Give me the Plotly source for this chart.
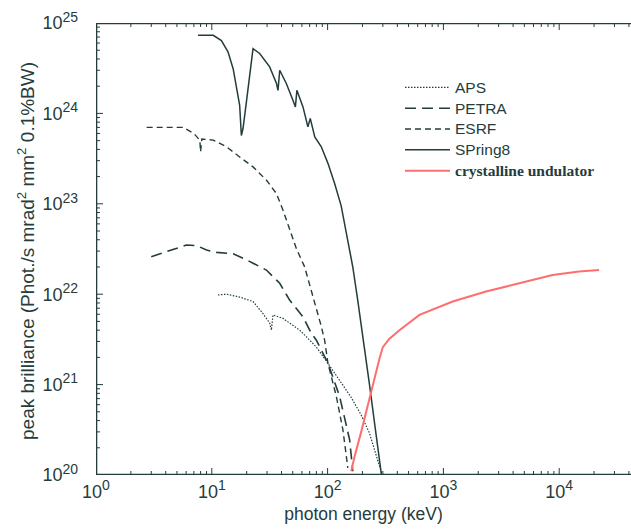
import math
import plotly.graph_objects as go

# ---- data ----
aps_x = [11.3, 13.4, 17.4, 22.7, 27.4, 31.6, 32.7, 33.8, 41.2, 57.4, 65.3, 80, 100.7, 127, 160, 195, 230, 296]
aps_y = [9.8e21, 1.0e22, 9.3e21, 8.3e21, 6.2e21, 4.8e21, 4.0e21, 5.9e21, 5.4e21, 4.0e21, 3.4e21, 2.6e21,
         1.72e21, 1.13e21, 7.2e20, 4.6e20, 2.9e20, 1.0e20]

petra_x = [3.0, 4.5, 6.05, 7.4, 9.0, 11, 15.3, 19.9, 22.7, 29.6, 38.6, 47, 61.3, 72.3, 80, 100.7, 127, 155, 165]
petra_y = [2.6e22, 3.1e22, 3.5e22, 3.45e22, 3.08e22, 2.9e22, 2.8e22, 2.4e22, 2.2e22, 1.85e22, 1.32e22,
           8.6e21, 5.6e21, 3.7e21, 3.1e21, 1.72e21, 7.4e20, 2.45e20, 1.1e20]

esrf_x = [2.74, 5.66, 7.0, 7.88, 8.0, 8.2, 10.3, 13.4, 17.4, 22.7, 29.6, 36.1, 41.2, 47, 53.7, 63.4, 72.3,
          80, 88.2, 94.2, 100.7, 119, 135.6, 149.5]
esrf_y = [7.0e23, 7.0e23, 6.0e23, 5.06e23, 3.76e23, 5.2e23, 5.06e23, 4.27e23, 3.3e23, 2.56e23, 1.83e23,
          1.3e23, 8.5e22, 5.2e22, 3.2e22, 2.0e22, 1.12e22, 6.7e21, 4.4e21, 3.1e21, 1.72e21, 7.4e20, 3.16e20, 1.2e20]

spring8_x = [7.6, 10.3, 12.1, 13.8, 15.3, 16.3, 17.4, 18.0, 18.6, 19.9, 21.2, 22.7, 25.9, 31.6, 36.2, 37.3,
             38.6, 44, 50.2, 52.7, 54.3, 61.3, 67.6, 70.8, 77.5, 88.2, 100.7, 115, 131, 165, 182, 204, 230,
             259, 292]
spring8_y = [7.3e24, 7.3e24, 6.4e24, 4.8e24, 3.1e24, 2.05e24, 1.23e24, 5.7e23, 6.8e23, 1.34e24, 2.64e24,
             5.2e24, 4.6e24, 3.27e24, 2.14e24, 1.8e24, 3.0e24, 2.14e24, 1.4e24, 1.18e24, 1.8e24, 1.18e24,
             7.1e23, 8.8e23, 5.5e23, 4.27e23, 2.8e23, 1.68e23, 9.5e22, 2.0e22, 8.6e21, 3.1e21, 1.0e21,
             3.16e20, 1.0e20]

cu_x = [160, 171, 195, 215, 238, 260, 281, 300, 340, 417, 621, 1203, 2334, 4520, 8750, 14870, 22100]
cu_y = [1.1e20, 1.6e20, 3.0e20, 5.0e20, 8.4e20, 1.3e21, 1.96e21, 2.6e21, 3.2e21, 4.0e21, 5.9e21, 8.3e21,
        1.07e22, 1.32e22, 1.63e22, 1.78e22, 1.85e22]

x_tickvals = [1.0, 10.0, 100.0, 1000.0, 10000.0]
x_exp = ["0", "1", "2", "3", "4"]
y_tickvals = [1e20, 1e21, 1e22, 1e23, 1e24, 1e25]
y_exp = ["20", "21", "22", "23", "24", "25"]

XR = [0.0, 4.62]   # log10 range of the x axis
YR = [20.0, 25.0]  # log10 range of the y axis

x_minor = [float(m) * 10.0 ** k for k in range(0, 5) for m in range(2, 10)
           if math.log10(m * 10.0 ** k) < XR[1]]
y_minor = [float(m) * 10.0 ** k for k in range(20, 25) for m in range(2, 10)]

INK = "#243c3c"
RED = "#ff6e6e"
LEG = "<span style=\"font-size:15.5px\">%s</span>"
SUP = "10<sup><span style=\"font-size:14px\">%s</span></sup>"
x_ticktext = [SUP % e for e in x_exp]
y_ticktext = [SUP % e for e in y_exp]

fig = go.Figure()
fig.add_trace(go.Scatter(x=aps_x, y=aps_y, mode="lines", name=LEG % "APS",
                         line=dict(color=INK, width=1.2, dash="1.5px,1.5px")))
fig.add_trace(go.Scatter(x=petra_x, y=petra_y, mode="lines", name=LEG % "PETRA",
                         line=dict(color=INK, width=1.6, dash="11px,6px")))
fig.add_trace(go.Scatter(x=esrf_x, y=esrf_y, mode="lines", name=LEG % "ESRF",
                         line=dict(color=INK, width=1.4, dash="6px,4px")))
fig.add_trace(go.Scatter(x=spring8_x, y=spring8_y, mode="lines", name=LEG % "SPring8",
                         line=dict(color=INK, width=1.5)))
fig.add_trace(go.Scatter(x=cu_x, y=cu_y, mode="lines",
                         name="<span style=\"font-family:'Liberation Serif';font-size:15.5px\"><b>crystalline undulator</b></span>",
                         line=dict(color=RED, width=2)))

# ---- axis frame and tick marks (derived from axis ranges and tick arrays) ----
PLOT_W, PLOT_H = 535.0, 452.0
x_lo, x_hi = 10.0 ** XR[0], 10.0 ** XR[1]
y_lo, y_hi = 10.0 ** YR[0], 10.0 ** YR[1]
px_per_dec_x = PLOT_W / (XR[1] - XR[0])
px_per_dec_y = PLOT_H / (YR[1] - YR[0])

frame_x = [x_lo, x_lo, None, x_lo, x_hi, None, x_lo, x_hi]
frame_y = [y_lo, y_hi, None, y_lo, y_lo, None, y_hi, y_hi]
fig.add_trace(go.Scatter(x=frame_x, y=frame_y, mode="lines", showlegend=False, hoverinfo="skip",
                         line=dict(color=INK, width=2.6)))


def x_ticks(vals, length_px):
    xs, ys = [], []
    dl = length_px / px_per_dec_y
    for v in vals:
        xs += [v, v, None, v, v, None]
        ys += [y_lo, 10.0 ** (YR[0] + dl), None, y_hi, 10.0 ** (YR[1] - dl), None]
    return xs, ys


def y_ticks(vals, length_px):
    xs, ys = [], []
    dl = length_px / px_per_dec_x
    for v in vals:
        xs += [x_lo, 10.0 ** (XR[0] + dl), None]
        ys += [v, v, None]
    return xs, ys


for vals, ln in ((x_tickvals, 7), (x_minor, 4)):
    tx, ty = x_ticks(vals, ln)
    fig.add_trace(go.Scatter(x=tx, y=ty, mode="lines", showlegend=False, hoverinfo="skip",
                             line=dict(color=INK, width=1)))
for vals, ln in ((y_tickvals, 7), (y_minor, 4)):
    tx, ty = y_ticks(vals, ln)
    fig.add_trace(go.Scatter(x=tx, y=ty, mode="lines", showlegend=False, hoverinfo="skip",
                             line=dict(color=INK, width=1)))

fig.update_layout(
    width=631, height=530,
    margin=dict(l=96, r=0, t=23, b=55),
    paper_bgcolor="white", plot_bgcolor="white",
    showlegend=True,
    xaxis=dict(type="log", range=XR, tickmode="array", tickvals=x_tickvals, ticktext=x_ticktext,
               showgrid=False, zeroline=False, showline=False, ticks="",
               tickfont=dict(family="Liberation Sans, Arial", size=18, color=INK), ticklabelstandoff=4,
               title=dict(text="photon energy (keV)",
                          font=dict(family="Liberation Sans, Arial", size=17.5, color=INK), standoff=6)),
    yaxis=dict(type="log", range=YR, tickmode="array", tickvals=y_tickvals, ticktext=y_ticktext,
               showgrid=False, zeroline=False, showline=False, ticks="", ticklabelstandoff=17,
               tickfont=dict(family="Liberation Sans, Arial", size=18, color=INK)),
    legend=dict(x=(400 - 96) / 535, y=(475 - 72) / 452, xanchor="left", yanchor="top",
                bgcolor="rgba(0,0,0,0)", itemwidth=45,
                font=dict(family="Liberation Sans, Arial", size=13.7, color=INK), tracegroupgap=0),
    annotations=[dict(text="peak brilliance (Phot./s mrad<sup>2</sup> mm<sup>2</sup> 0.1%BW)",
                      textangle=-90, xref="paper", yref="paper", x=-(96 - 26) / 535, y=(475 - 251) / 452,
                      xanchor="center", yanchor="middle", showarrow=False,
                      font=dict(family="Liberation Sans, Arial", size=19, color=INK))],
)

fig.write_html("out.html")
